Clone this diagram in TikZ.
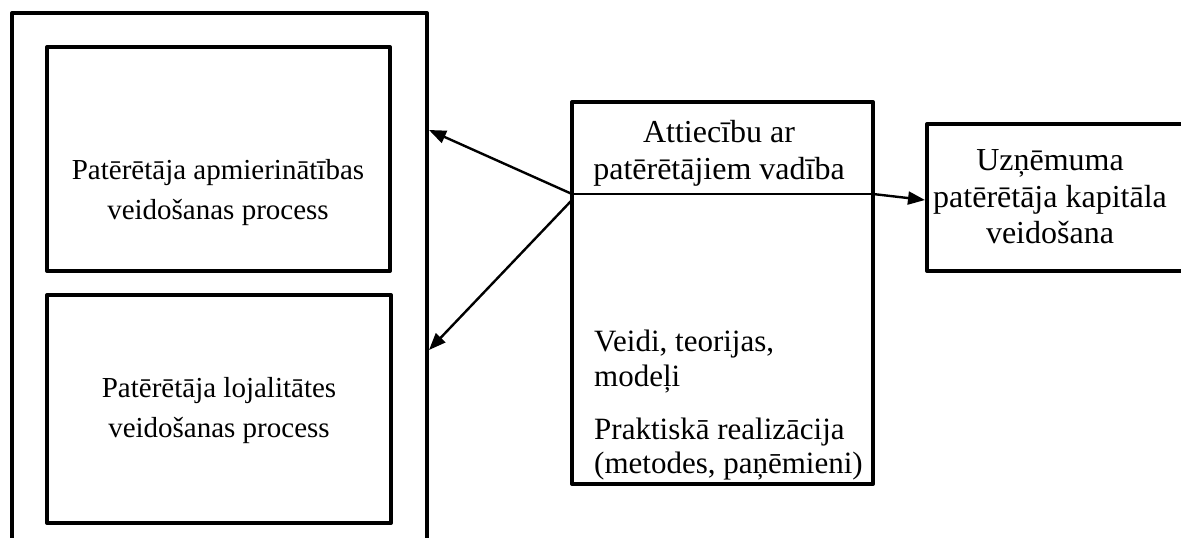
\documentclass[tikz,border=0pt]{standalone}
\usepackage{fontspec}
\setmainfont{Liberation Serif}
\usetikzlibrary{arrows.meta,calc}
\begin{document}
\begin{tikzpicture}[x=1pt,y=-1pt,
  frame/.style={draw, line width=4pt, line join=round, inner sep=0pt, outer sep=0pt, anchor=north west},
  txt/.style={font=\fontsize{29}{40}\selectfont, align=center, inner sep=0pt},
  bigtxt/.style={txt, font=\fontsize{32}{36.5}\selectfont},
  ltxt/.style={bigtxt, align=left, anchor=west},
  conn/.style={line width=2.4pt, -{Triangle[length=17pt,width=13pt]}}]
\useasboundingbox (0,0) rectangle (1181,538);
\clip (0,0) rectangle (1181,538);

% left frame grouping the two processes
\node[frame, minimum width=415pt, minimum height=560pt] (outer) at (12,13) {};
\node[frame, minimum width=343pt, minimum height=224pt] (sat) at (47,47) {};
\node[txt] (sattxt) at (218,193) {Patērētāja apmierinātības\\veidošanas process};
\node[frame, minimum width=344pt, minimum height=228pt] (loy) at (47,295)
  {\fontsize{29}{40}\selectfont\begin{tabular}{@{}c@{}}Patērētāja lojalitātes\\veidošanas process\end{tabular}};

% central management box
\node[frame, minimum width=301pt, minimum height=382pt] (crm) at (572,102) {};
\node[bigtxt, font=\fontsize{32}{37}\selectfont] (crmtitle) at (719,153) {Attiecību ar\\patērētājiem vadība};
\node[ltxt, font=\fontsize{31}{35}\selectfont] (kinds) at (594,362) {Veidi, teorijas,\\modeļi};
\node[ltxt, font=\fontsize{31}{34}\selectfont] (practice) at (594,449) {Praktiskā realizācija\\(metodes, paņēmieni)};

% result box
\node[frame, minimum width=300pt, minimum height=147pt] (cap) at (927,124) {};
\node[bigtxt] (captxt) at (1050,197) {Uzņēmuma\\patērētāja kapitāla\\veidošana};

% divider and connectors
\path (crm.north west) ++(0,92) coordinate (divL);
\path (crm.north east) ++(0,92) coordinate (divR);
\draw[line width=1.3pt] (divL) -- (divR);
\draw[conn] (divL) -- ($(outer.east |- 0,130)+(2,0)$);
\draw[conn] ($(divL)+(0,6)$) -- ($(outer.east |- 0,350)+(2,0)$);
\draw[conn] (divR) -- ($(cap.west |- 0,200)+(-2,0)$);
\end{tikzpicture}
\end{document}
